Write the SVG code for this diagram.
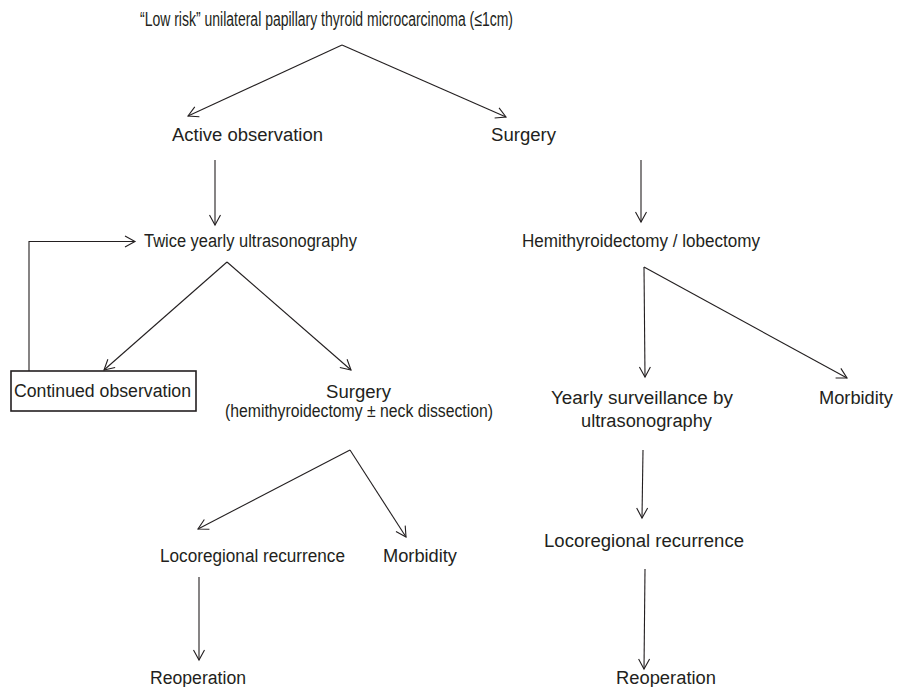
<svg xmlns="http://www.w3.org/2000/svg" width="897" height="687" viewBox="0 0 897 687">
<style>
  text { font-family: "Liberation Sans", Arial, sans-serif; font-size: 18px; fill: #231f20; }
  .t { font-size: 20px; }
  .c { stroke: #231f20; stroke-width: 1.1; fill: none; }
  .box { stroke: #231f20; stroke-width: 1.6; fill: none; }
</style>
<defs>
  <marker id="ah" markerUnits="userSpaceOnUse" markerWidth="14" markerHeight="14" refX="11" refY="6" orient="auto" overflow="visible">
    <path d="M1,0.5 L11,6 L1,11.5" fill="none" stroke="#231f20" stroke-width="1.1"/>
  </marker>
</defs>
<rect width="897" height="687" fill="#ffffff"/>
<g id="connectors">
  <line class="c" x1="342" y1="45" x2="188" y2="116" marker-end="url(#ah)"/>
  <line class="c" x1="342" y1="45" x2="506" y2="117" marker-end="url(#ah)"/>
  <line class="c" x1="215" y1="160" x2="215" y2="225" marker-end="url(#ah)"/>
  <line class="c" x1="641" y1="160" x2="641" y2="222" marker-end="url(#ah)"/>
  <polyline class="c" points="29,371 29,241.5 135,241.5" marker-end="url(#ah)"/>
  <line class="c" x1="227" y1="262" x2="104" y2="370" marker-end="url(#ah)"/>
  <line class="c" x1="227" y1="262" x2="351" y2="370" marker-end="url(#ah)"/>
  <line class="c" x1="644" y1="267" x2="645" y2="377" marker-end="url(#ah)"/>
  <line class="c" x1="644" y1="267" x2="847" y2="378" marker-end="url(#ah)"/>
  <line class="c" x1="350" y1="450" x2="198" y2="529" marker-end="url(#ah)"/>
  <line class="c" x1="350" y1="450" x2="406" y2="537" marker-end="url(#ah)"/>
  <line class="c" x1="199" y1="577" x2="199" y2="660" marker-end="url(#ah)"/>
  <line class="c" x1="643" y1="450" x2="642" y2="518" marker-end="url(#ah)"/>
  <line class="c" x1="645" y1="569" x2="644" y2="669" marker-end="url(#ah)"/>
</g>
<g id="title"><text class="t" x="140" y="26" textLength="373" lengthAdjust="spacingAndGlyphs">“Low risk” unilateral papillary thyroid microcarcinoma (≤1cm)</text></g>
<g id="active-observation"><text x="172" y="141" textLength="151" lengthAdjust="spacingAndGlyphs">Active observation</text></g>
<g id="surgery"><text x="491" y="141" textLength="65" lengthAdjust="spacingAndGlyphs">Surgery</text></g>
<g id="twice-yearly"><text x="144" y="247" textLength="213" lengthAdjust="spacingAndGlyphs">Twice yearly ultrasonography</text></g>
<g id="hemithyroidectomy"><text x="522" y="247" textLength="238" lengthAdjust="spacingAndGlyphs">Hemithyroidectomy / lobectomy</text></g>
<g id="continued-observation">
  <rect class="box" x="11" y="371" width="185" height="40"/>
  <text x="14" y="397" textLength="177" lengthAdjust="spacingAndGlyphs">Continued observation</text>
</g>
<g id="surgery-mid">
  <text x="326" y="398" textLength="65" lengthAdjust="spacingAndGlyphs">Surgery</text>
  <text x="225" y="417" textLength="268" lengthAdjust="spacingAndGlyphs">(hemithyroidectomy ± neck dissection)</text>
</g>
<g id="yearly-surveillance">
  <text x="551" y="404" textLength="182" lengthAdjust="spacingAndGlyphs">Yearly surveillance by</text>
  <text x="581" y="427" textLength="131" lengthAdjust="spacingAndGlyphs">ultrasonography</text>
</g>
<g id="morbidity-right"><text x="819" y="404" textLength="74" lengthAdjust="spacingAndGlyphs">Morbidity</text></g>
<g id="locoregional-left"><text x="160" y="562" textLength="185" lengthAdjust="spacingAndGlyphs">Locoregional recurrence</text></g>
<g id="morbidity-mid"><text x="383" y="562" textLength="74" lengthAdjust="spacingAndGlyphs">Morbidity</text></g>
<g id="reoperation-left"><text x="150" y="684" textLength="96" lengthAdjust="spacingAndGlyphs">Reoperation</text></g>
<g id="locoregional-right"><text x="544" y="547" textLength="200" lengthAdjust="spacingAndGlyphs">Locoregional recurrence</text></g>
<g id="reoperation-right"><text x="616" y="684" textLength="100" lengthAdjust="spacingAndGlyphs">Reoperation</text></g>
</svg>
